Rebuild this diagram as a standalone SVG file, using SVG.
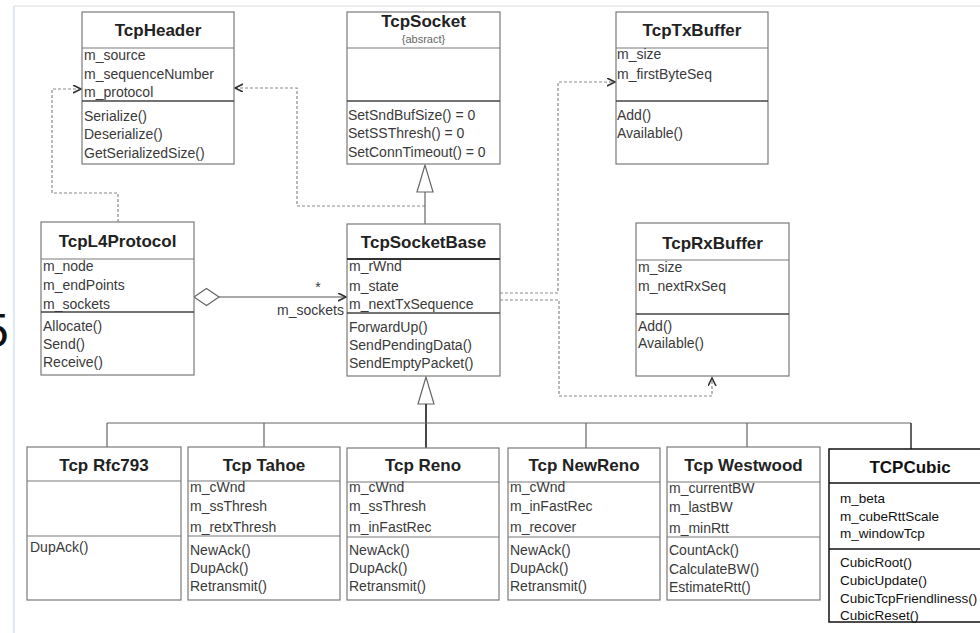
<svg xmlns="http://www.w3.org/2000/svg" width="980" height="633" viewBox="0 0 980 633">
<defs>
<style>
.box{fill:#fff;stroke:#7a7a7a;stroke-width:1.2}
.sep{stroke:#7a7a7a;stroke-width:1.2}
.sepd{stroke:#444;stroke-width:1.4}
.title{font-family:"Liberation Sans",Arial,sans-serif;font-weight:bold;font-size:17px;fill:#222;text-anchor:middle}
.t{font-family:"Liberation Sans",Arial,sans-serif;font-size:14px;fill:#3a3a3a}
.tc{font-family:"Liberation Sans",Arial,sans-serif;font-size:13.5px;fill:#111}
.dash{fill:none;stroke:#8a8a8a;stroke-width:1.2;stroke-dasharray:3,2}
.solid{fill:none;stroke:#666;stroke-width:1.2}
.tri{fill:#fff;stroke:#666;stroke-width:1.2}
</style>
<marker id="arr" markerUnits="userSpaceOnUse" markerWidth="10" markerHeight="10" refX="8" refY="4" orient="auto">
<path d="M0,0 L8,4 L0,8" fill="none" stroke="#333" stroke-width="1.6"/>
</marker>
</defs>
<rect x="0" y="0" width="980" height="633" fill="#fff"/>
<line x1="14" y1="6" x2="980" y2="6" stroke="#dcdcdc" stroke-width="1.2"/>
<line x1="14" y1="6" x2="14" y2="633" stroke="#d6e2ee" stroke-width="1.5"/>
<text x="-18" y="347" font-family="Liberation Sans,Arial,sans-serif" font-size="48" fill="#111">5</text>

<g id="connectors">
<path class="dash" d="M118,222 V193 H52 V89 H81" marker-end="url(#arr)"/>
<path class="dash" d="M425,206 H297 V88 H235" marker-end="url(#arr)"/>
<path class="dash" d="M500,293 H558 V82 H615" marker-end="url(#arr)"/>
<path class="dash" d="M500,300 H559 V396 H712 V378" marker-end="url(#arr)"/>
<line class="solid" x1="425" y1="224" x2="425" y2="192"/>
<polygon class="tri" points="425,165 417,192 433,192"/>
<line x1="219" y1="297" x2="346" y2="297" stroke="#555" stroke-width="1.2" marker-end="url(#arr)"/>
<polygon points="194,297 206.5,288.5 219,297 206.5,305.5" fill="#fff" stroke="#666" stroke-width="1.2"/>
<text class="t" x="318" y="292" text-anchor="middle">*</text>
<text class="t" x="277" y="315">m_sockets</text>
<polygon class="tri" points="426,377 418,404 434,404"/>
<line x1="426" y1="404" x2="426" y2="448" stroke="#333" stroke-width="1.8"/>
<path class="solid" d="M107,423 H911"/>
<path class="solid" d="M107,423 V447 M264,423 V447 M586,423 V448 M747,423 V447"/>
<path d="M911,423 V449" fill="none" stroke="#222" stroke-width="1.4"/>
</g>

<g id="TcpHeader">
<rect class="box" x="82" y="12" width="152" height="152"/>
<line class="sep" x1="82" y1="48" x2="234" y2="48"/>
<line class="sepd" x1="82" y1="101" x2="234" y2="101"/>
<text class="title" x="158" y="36">TcpHeader</text>
<text class="t" x="84" y="60">m_source</text>
<text class="t" x="84" y="79">m_sequenceNumber</text>
<text class="t" x="84" y="97">m_protocol</text>
<text class="t" x="84" y="121">Serialize()</text>
<text class="t" x="84" y="139">Deserialize()</text>
<text class="t" x="84" y="158">GetSerializedSize()</text>
</g>

<g id="TcpSocket">
<rect class="box" x="347" y="12" width="153" height="152"/>
<line class="sep" x1="347" y1="48" x2="500" y2="48"/>
<line class="sepd" x1="347" y1="101" x2="500" y2="101"/>
<text class="title" x="423.5" y="27">TcpSocket</text>
<text x="423.5" y="43" text-anchor="middle" font-family="Liberation Sans,Arial,sans-serif" font-size="11" fill="#666">{absract}</text>
<text class="t" x="348" y="120">SetSndBufSize() = 0</text>
<text class="t" x="348" y="138">SetSSThresh() = 0</text>
<text class="t" x="348" y="157">SetConnTimeout() = 0</text>
</g>

<g id="TcpTxBuffer">
<rect class="box" x="616" y="12" width="152" height="152"/>
<line class="sep" x1="616" y1="48" x2="768" y2="48"/>
<line class="sepd" x1="616" y1="101" x2="768" y2="101"/>
<text class="title" x="692" y="36">TcpTxBuffer</text>
<text class="t" x="617" y="59">m_size</text>
<text class="t" x="617" y="79">m_firstByteSeq</text>
<text class="t" x="617" y="120">Add()</text>
<text class="t" x="617" y="138">Available()</text>
</g>

<g id="TcpL4Protocol">
<rect class="box" x="41" y="222" width="153" height="153"/>
<line class="sep" x1="41" y1="259" x2="194" y2="259"/>
<line class="sepd" x1="41" y1="312" x2="194" y2="312"/>
<text class="title" x="117.5" y="247">TcpL4Protocol</text>
<text class="t" x="43" y="271">m_node</text>
<text class="t" x="43" y="290">m_endPoints</text>
<text class="t" x="43" y="309">m_sockets</text>
<text class="t" x="43" y="331">Allocate()</text>
<text class="t" x="43" y="349">Send()</text>
<text class="t" x="43" y="367">Receive()</text>
</g>

<g id="TcpSocketBase">
<rect class="box" x="347" y="224" width="153" height="152"/>
<line x1="347" y1="259" x2="500" y2="259" stroke="#333" stroke-width="1.8"/>
<line class="sepd" x1="347" y1="313" x2="500" y2="313"/>
<text class="title" x="423.5" y="248">TcpSocketBase</text>
<text class="t" x="349" y="271">m_rWnd</text>
<text class="t" x="349" y="291">m_state</text>
<text class="t" x="349" y="309">m_nextTxSequence</text>
<text class="t" x="349" y="332">ForwardUp()</text>
<text class="t" x="349" y="350">SendPendingData()</text>
<text class="t" x="349" y="368">SendEmptyPacket()</text>
</g>

<g id="TcpRxBuffer">
<rect class="box" x="636" y="223" width="153" height="153"/>
<line class="sep" x1="636" y1="260" x2="789" y2="260"/>
<line class="sepd" x1="636" y1="314" x2="789" y2="314"/>
<text class="title" x="712.5" y="249">TcpRxBuffer</text>
<text class="t" x="638" y="272">m_size</text>
<text class="t" x="638" y="291">m_nextRxSeq</text>
<text class="t" x="638" y="331">Add()</text>
<text class="t" x="638" y="348">Available()</text>
</g>

<g id="TcpRfc793">
<rect class="box" x="27" y="447" width="154" height="153"/>
<line class="sep" x1="27" y1="481" x2="181" y2="481"/>
<line class="sep" x1="27" y1="536" x2="181" y2="536"/>
<text class="title" x="104" y="471">Tcp Rfc793</text>
<text class="t" x="30" y="552">DupAck()</text>
</g>

<g id="TcpTahoe">
<rect class="box" x="188" y="447" width="152" height="153"/>
<line class="sep" x1="188" y1="481" x2="340" y2="481"/>
<line class="sep" x1="188" y1="536" x2="340" y2="536"/>
<text class="title" x="264" y="471">Tcp Tahoe</text>
<text class="t" x="190" y="492">m_cWnd</text>
<text class="t" x="190" y="511">m_ssThresh</text>
<text class="t" x="190" y="532">m_retxThresh</text>
<text class="t" x="190" y="555">NewAck()</text>
<text class="t" x="190" y="573">DupAck()</text>
<text class="t" x="190" y="591">Retransmit()</text>
</g>

<g id="TcpReno">
<rect class="box" x="347" y="448" width="152" height="152"/>
<line class="sep" x1="347" y1="482" x2="499" y2="482"/>
<line class="sep" x1="347" y1="537" x2="499" y2="537"/>
<text class="title" x="423" y="471">Tcp Reno</text>
<text class="t" x="349" y="492">m_cWnd</text>
<text class="t" x="349" y="511">m_ssThresh</text>
<text class="t" x="349" y="532">m_inFastRec</text>
<text class="t" x="349" y="555">NewAck()</text>
<text class="t" x="349" y="573">DupAck()</text>
<text class="t" x="349" y="591">Retransmit()</text>
</g>

<g id="TcpNewReno">
<rect class="box" x="508" y="448" width="152" height="152"/>
<line class="sep" x1="508" y1="482" x2="660" y2="482"/>
<line class="sep" x1="508" y1="537" x2="660" y2="537"/>
<text class="title" x="584" y="471">Tcp NewReno</text>
<text class="t" x="510" y="492">m_cWnd</text>
<text class="t" x="510" y="511">m_inFastRec</text>
<text class="t" x="510" y="532">m_recover</text>
<text class="t" x="510" y="555">NewAck()</text>
<text class="t" x="510" y="573">DupAck()</text>
<text class="t" x="510" y="591">Retransmit()</text>
</g>

<g id="TcpWestwood">
<rect class="box" x="667" y="447" width="153" height="153"/>
<line class="sep" x1="667" y1="482" x2="820" y2="482"/>
<line class="sep" x1="667" y1="537" x2="820" y2="537"/>
<text class="title" x="743.5" y="471">Tcp Westwood</text>
<text class="t" x="669" y="493">m_currentBW</text>
<text class="t" x="669" y="512">m_lastBW</text>
<text class="t" x="669" y="533">m_minRtt</text>
<text class="t" x="669" y="555">CountAck()</text>
<text class="t" x="669" y="574">CalculateBW()</text>
<text class="t" x="669" y="592">EstimateRtt()</text>
</g>

<g id="TCPCubic">
<rect x="829" y="449" width="162" height="173" fill="#fff" stroke="#111" stroke-width="1.5"/>
<line x1="829" y1="483" x2="991" y2="483" stroke="#111" stroke-width="1.5"/>
<line x1="829" y1="549" x2="991" y2="549" stroke="#111" stroke-width="1.5"/>
<text class="title" x="910" y="473" style="fill:#111">TCPCubic</text>
<text class="tc" x="840" y="503">m_beta</text>
<text class="tc" x="840" y="521">m_cubeRttScale</text>
<text class="tc" x="840" y="538">m_windowTcp</text>
<text class="tc" x="840" y="567">CubicRoot()</text>
<text class="tc" x="840" y="585">CubicUpdate()</text>
<text class="tc" x="840" y="603">CubicTcpFriendliness()</text>
<text class="tc" x="840" y="620">CubicReset()</text>
</g>
</svg>
